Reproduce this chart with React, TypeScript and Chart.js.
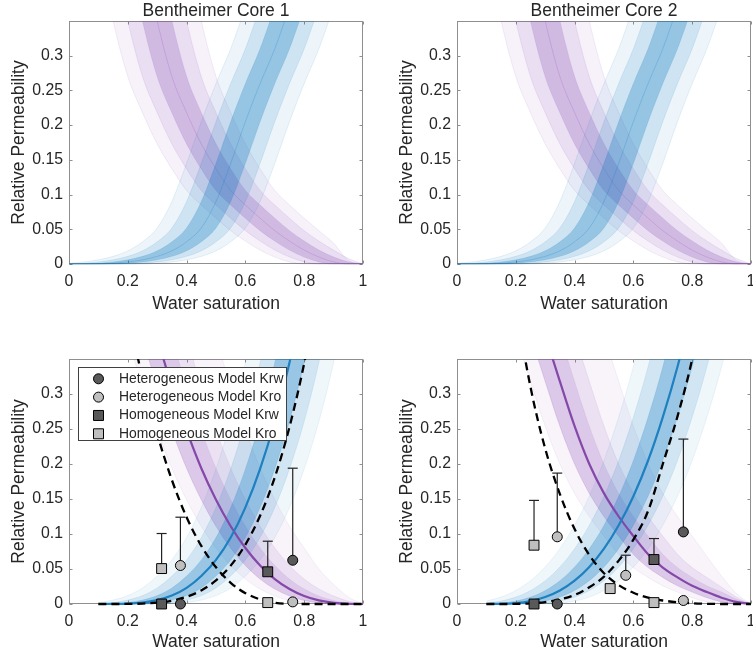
import React, { useEffect, useRef } from 'react';
import { Chart, registerables } from 'chart.js';

Chart.register(...registerables);

const FONT = "'Liberation Sans', Arial, Helvetica, sans-serif";
const TEXT = '#262626';
const AXIS = '#8f8f8f';
const ERR = '#222222';
const DARK = 'rgb(89,89,89)';
const LIGHT = 'rgb(191,191,191)';
const BLUE = [0, 114, 189];
const PURPLE = [135, 75, 178];
const BLUE_LINE = 'rgb(30,128,192)';
const PURPLE_LINE = 'rgb(132,72,168)';

// ---------- ticks & texts ----------
const xTickValues = [0, 0.2, 0.4, 0.6, 0.8, 1];
const xTickLabels = ['0', '0.2', '0.4', '0.6', '0.8', '1'];
const yTickValues = [0, 0.05, 0.1, 0.15, 0.2, 0.25, 0.3];
const yTickLabels = ['0', '0.05', '0.1', '0.15', '0.2', '0.25', '0.3'];
const panelTitles = ['Bentheimer Core 1', 'Bentheimer Core 2'];
const xTitle = 'Water saturation';
const yTitle = 'Relative Permeability';
const legendLabels = [
  'Heterogeneous Model Krw',
  'Heterogeneous Model Kro',
  'Homogeneous Model Krw',
  'Homogeneous Model Kro',
];

// ---------- top panels (ensemble of history-matched curves) ----------
const xsTop = [0, 0.05, 0.1, 0.15, 0.2, 0.25, 0.3, 0.35, 0.4, 0.45, 0.5, 0.55, 0.6, 0.65, 0.7, 0.75, 0.8, 0.85, 0.9, 0.95, 1];
const topKrwMed = [0, 0, 0, 0.001, 0.003, 0.006, 0.011, 0.019, 0.032, 0.052, 0.09, 0.145, 0.205, 0.26, 0.31, 0.37, 0.43, 0.5, 0.57, 0.64, 0.72];
const topKrwHi1 = [0, 0, 0.001, 0.003, 0.006, 0.011, 0.019, 0.032, 0.052, 0.09, 0.145, 0.205, 0.26, 0.31, 0.37, 0.43, 0.5, 0.57, 0.64, 0.72, 0.8];
const topKrwHi2 = [0, 0.001, 0.003, 0.006, 0.011, 0.019, 0.032, 0.052, 0.09, 0.145, 0.205, 0.26, 0.31, 0.37, 0.43, 0.5, 0.57, 0.64, 0.72, 0.8, 0.88];
const topKrwHi3 = [0.001, 0.003, 0.006, 0.011, 0.019, 0.032, 0.052, 0.09, 0.145, 0.205, 0.26, 0.31, 0.37, 0.43, 0.5, 0.57, 0.64, 0.72, 0.8, 0.88, 0.96];
const topKrwLo1 = [0, 0, 0, 0, 0.001, 0.003, 0.006, 0.011, 0.019, 0.032, 0.052, 0.09, 0.145, 0.205, 0.26, 0.31, 0.37, 0.43, 0.5, 0.57, 0.64];
const topKrwLo2 = [0, 0, 0, 0, 0, 0.001, 0.003, 0.006, 0.011, 0.019, 0.032, 0.052, 0.09, 0.145, 0.205, 0.26, 0.31, 0.37, 0.43, 0.5, 0.57];
const topKrwLo3 = [0, 0, 0, 0, 0, 0, 0.001, 0.003, 0.006, 0.011, 0.019, 0.032, 0.052, 0.09, 0.145, 0.205, 0.26, 0.31, 0.37, 0.43, 0.5];

const topKroMed = [1.2, 1.0, 0.85, 0.72, 0.6, 0.45, 0.35, 0.27, 0.218, 0.173, 0.137, 0.106, 0.085, 0.066, 0.048, 0.033, 0.02, 0.01, 0.003, 0, 0];
const topKroHi1 = [1.4, 1.2, 1.0, 0.85, 0.72, 0.6, 0.45, 0.35, 0.27, 0.218, 0.173, 0.137, 0.106, 0.085, 0.066, 0.048, 0.033, 0.02, 0.01, 0.003, 0];
const topKroHi2 = [1.6, 1.4, 1.2, 1.0, 0.85, 0.72, 0.6, 0.45, 0.35, 0.27, 0.218, 0.173, 0.137, 0.106, 0.085, 0.066, 0.048, 0.033, 0.02, 0.008, 0];
const topKroHi3 = [1.8, 1.6, 1.4, 1.2, 1.0, 0.85, 0.72, 0.6, 0.45, 0.35, 0.27, 0.218, 0.173, 0.137, 0.106, 0.085, 0.066, 0.048, 0.03, 0.005, 0];
const topKroLo1 = [1.0, 0.85, 0.72, 0.6, 0.45, 0.35, 0.27, 0.218, 0.173, 0.137, 0.106, 0.085, 0.066, 0.048, 0.033, 0.02, 0.01, 0.003, 0, 0, 0];
const topKroLo2 = [0.85, 0.72, 0.6, 0.45, 0.35, 0.27, 0.218, 0.173, 0.137, 0.106, 0.085, 0.066, 0.048, 0.033, 0.02, 0.01, 0.003, 0, 0, 0, 0];
const topKroLo3 = [0.72, 0.6, 0.45, 0.35, 0.27, 0.218, 0.173, 0.137, 0.106, 0.085, 0.066, 0.048, 0.033, 0.02, 0.01, 0.003, 0, 0, 0, 0, 0];

// ---------- bottom panels (Corey curves) ----------
const xsBot = [0.1, 0.15, 0.2, 0.25, 0.3, 0.35, 0.4, 0.45, 0.5, 0.55, 0.6, 0.65, 0.7, 0.75, 0.8, 0.85, 0.9, 0.95, 1];

// Core 1
const c1KrwMed = [0, 0.0001, 0.0005, 0.002, 0.0056, 0.012, 0.023, 0.04, 0.063, 0.095, 0.138, 0.193, 0.261, 0.345, 0.448, 0.57, 0.715, 0.88, 1.08];
const c1KrwHi1 = [0.0001, 0.0005, 0.002, 0.0056, 0.012, 0.023, 0.04, 0.063, 0.095, 0.138, 0.193, 0.261, 0.345, 0.448, 0.57, 0.715, 0.88, 1.08, 1.3];
const c1KrwHi2 = [0.0005, 0.002, 0.0056, 0.012, 0.023, 0.04, 0.063, 0.095, 0.138, 0.193, 0.261, 0.345, 0.448, 0.57, 0.715, 0.88, 1.08, 1.3, 1.55];
const c1KrwHi3 = [0.002, 0.0056, 0.012, 0.023, 0.04, 0.063, 0.095, 0.138, 0.193, 0.261, 0.345, 0.448, 0.57, 0.715, 0.88, 1.08, 1.3, 1.55, 1.8];
const c1KrwLo1 = [0, 0, 0.0001, 0.0005, 0.002, 0.0056, 0.012, 0.023, 0.04, 0.063, 0.095, 0.138, 0.193, 0.261, 0.345, 0.448, 0.57, 0.715, 0.88];
const c1KrwLo2 = [0, 0, 0, 0.0001, 0.0005, 0.002, 0.0056, 0.012, 0.023, 0.04, 0.063, 0.095, 0.138, 0.193, 0.261, 0.345, 0.448, 0.57, 0.715];
const c1KrwLo3 = [0, 0, 0, 0, 0.0001, 0.0005, 0.002, 0.0056, 0.012, 0.023, 0.04, 0.063, 0.095, 0.138, 0.193, 0.261, 0.345, 0.448, 0.57];
const c1KroMed = [0.772, 0.658, 0.555, 0.463, 0.382, 0.31, 0.248, 0.194, 0.149, 0.111, 0.08, 0.055, 0.0356, 0.0214, 0.0114, 0.0051, 0.0016, 0.0002, 0];
const c1KroHi1 = [0.9, 0.772, 0.658, 0.555, 0.463, 0.382, 0.31, 0.248, 0.194, 0.149, 0.111, 0.08, 0.055, 0.0356, 0.0214, 0.0114, 0.0051, 0.0016, 0];
const c1KroHi2 = [1.05, 0.9, 0.772, 0.658, 0.555, 0.463, 0.382, 0.31, 0.248, 0.194, 0.149, 0.111, 0.08, 0.055, 0.0356, 0.0214, 0.0114, 0.004, 0];
const c1KroHi4 = [1.35, 1.2, 1.05, 0.9, 0.772, 0.658, 0.555, 0.463, 0.382, 0.31, 0.248, 0.194, 0.149, 0.111, 0.08, 0.05, 0.028, 0.01, 0];
const c1KroLo1 = [0.658, 0.555, 0.463, 0.382, 0.31, 0.248, 0.194, 0.149, 0.111, 0.08, 0.055, 0.0356, 0.0214, 0.0114, 0.0051, 0.0016, 0.0002, 0, 0];
const c1KroLo2 = [0.555, 0.463, 0.382, 0.31, 0.248, 0.194, 0.149, 0.111, 0.08, 0.055, 0.0356, 0.0214, 0.0114, 0.0051, 0.0016, 0.0002, 0, 0, 0];
const c1DashKro = [0.666, 0.533, 0.419, 0.323, 0.243, 0.177, 0.124, 0.083, 0.0524, 0.0303, 0.0155, 0.0066, 0.0019, 0.0002, 0, 0, 0, 0, 0];
const c1DashKrw = [0, 0, 0.0001, 0.0006, 0.0019, 0.0048, 0.0103, 0.0194, 0.0337, 0.0548, 0.0849, 0.126, 0.181, 0.253, 0.344, 0.458, 0.6, 0.772, 0.98];

const c1HetKrwX = [0.379, 0.761];
const c1HetKrwY = [0, 0.0625];
const c1HetKrwTop = [0, 0.194];
const c1HetKroX = [0.379, 0.761];
const c1HetKroY = [0.055, 0.003];
const c1HetKroTop = [0.124, 0.003];
const c1HomKrwX = [0.315, 0.676];
const c1HomKrwY = [0, 0.046];
const c1HomKrwTop = [0, 0.0897];
const c1HomKroX = [0.315, 0.676];
const c1HomKroY = [0.0506, 0.002];
const c1HomKroTop = [0.1007, 0.002];

// Core 2
const c2KrwMed = [0, 0.0002, 0.0012, 0.0042, 0.0099, 0.0193, 0.0333, 0.0529, 0.079, 0.1125, 0.154, 0.205, 0.267, 0.339, 0.4235, 0.521, 0.632, 0.758, 0.9];
const c2KrwHi1 = [0.0002, 0.0012, 0.0042, 0.0099, 0.0193, 0.0333, 0.0529, 0.079, 0.1125, 0.154, 0.205, 0.267, 0.339, 0.4235, 0.521, 0.632, 0.758, 0.9, 1.06];
const c2KrwHi2 = [0.0012, 0.0042, 0.0099, 0.0193, 0.0333, 0.0529, 0.079, 0.1125, 0.154, 0.205, 0.267, 0.339, 0.4235, 0.521, 0.632, 0.758, 0.9, 1.06, 1.23];
const c2KrwHi3 = [0.0042, 0.0099, 0.0193, 0.0333, 0.0529, 0.079, 0.1125, 0.154, 0.205, 0.267, 0.339, 0.4235, 0.521, 0.632, 0.758, 0.9, 1.06, 1.23, 1.42];
const c2KrwLo1 = [0, 0, 0.0002, 0.0012, 0.0042, 0.0099, 0.0193, 0.0333, 0.0529, 0.079, 0.1125, 0.154, 0.205, 0.267, 0.339, 0.4235, 0.521, 0.632, 0.758];
const c2KrwLo2 = [0, 0, 0, 0.0002, 0.0012, 0.0042, 0.0099, 0.0193, 0.0333, 0.0529, 0.079, 0.1125, 0.154, 0.205, 0.267, 0.339, 0.4235, 0.521, 0.632];
const c2KrwLo3 = [0, 0, 0, 0, 0.0002, 0.0012, 0.0042, 0.0099, 0.0193, 0.0333, 0.0529, 0.079, 0.1125, 0.154, 0.205, 0.267, 0.339, 0.4235, 0.521];
const c2KroMed = [0.76, 0.65, 0.55, 0.46, 0.385, 0.318, 0.254, 0.2, 0.158, 0.125, 0.097, 0.071, 0.052, 0.038, 0.026, 0.017, 0.009, 0.003, 0];
const c2KroHi1 = [0.88, 0.76, 0.65, 0.55, 0.46, 0.385, 0.318, 0.254, 0.2, 0.158, 0.125, 0.097, 0.071, 0.052, 0.038, 0.026, 0.017, 0.007, 0];
const c2KroHi2 = [1.0, 0.88, 0.76, 0.65, 0.55, 0.46, 0.385, 0.318, 0.254, 0.2, 0.158, 0.125, 0.097, 0.071, 0.052, 0.038, 0.024, 0.01, 0];
const c2KroHi4 = [1.24, 1.12, 1.0, 0.88, 0.76, 0.65, 0.55, 0.46, 0.385, 0.318, 0.254, 0.2, 0.158, 0.125, 0.097, 0.068, 0.04, 0.015, 0];
const c2KroLo1 = [0.65, 0.55, 0.46, 0.385, 0.318, 0.254, 0.2, 0.158, 0.125, 0.097, 0.071, 0.052, 0.038, 0.026, 0.017, 0.009, 0.003, 0, 0];
const c2KroLo2 = [0.55, 0.46, 0.385, 0.318, 0.254, 0.2, 0.158, 0.125, 0.097, 0.071, 0.052, 0.038, 0.026, 0.017, 0.009, 0.003, 0, 0, 0];
const c2DashKro = [0.75, 0.58, 0.43, 0.31, 0.222, 0.157, 0.107, 0.07, 0.044, 0.027, 0.016, 0.009, 0.005, 0.0025, 0.001, 0.0003, 0, 0, 0];
const c2DashKrw = [0, 0, 0.0002, 0.001, 0.0028, 0.0065, 0.013, 0.024, 0.039, 0.062, 0.092, 0.133, 0.2, 0.268, 0.35, 0.46, 0.6, 0.77, 0.97];

const c2HetKrwX = [0.341, 0.77];
const c2HetKrwY = [0, 0.103];
const c2HetKrwTop = [0, 0.2356];
const c2HetKroX = [0.341, 0.574, 0.77];
const c2HetKroY = [0.096, 0.041, 0.005];
const c2HetKroTop = [0.187, 0.0697, 0.005];
const c2HomKrwX = [0.262, 0.67];
const c2HomKrwY = [0, 0.0635];
const c2HomKrwTop = [0, 0.0935];
const c2HomKroX = [0.262, 0.521, 0.67];
const c2HomKroY = [0.084, 0.022, 0.002];
const c2HomKroTop = [0.148, 0.022, 0.002];

// ---------- helpers ----------
const rgba = (c: number[], a: number) => `rgba(${c[0]},${c[1]},${c[2]},${a})`;
const pts = (xs: number[], ys: number[]) => xs.map((x, i) => ({ x, y: ys[i] }));

function makeLine(xs: number[], ys: number[], extra: any) {
  return {
    data: pts(xs, ys),
    pointRadius: 0,
    borderWidth: 1,
    cubicInterpolationMode: 'monotone',
    fill: false,
    clip: { left: 0, right: 0, top: 0, bottom: 2 },
    ...extra,
  };
}

function addBand(ds: any[], xs: number[], lo: number[], hi: number[], color: number[], fillA: number, lineA: number, order: number) {
  const i = ds.length;
  ds.push(makeLine(xs, lo, { borderColor: rgba(color, lineA), order }));
  ds.push(makeLine(xs, hi, { borderColor: rgba(color, lineA), backgroundColor: rgba(color, fillA), fill: { target: i }, order }));
}

function addMarkers(ds: any[], xs: number[], ys: number[], tops: number[], shape: string, color: string) {
  ds.push({
    data: pts(xs, ys),
    showLine: false,
    pointStyle: shape,
    pointRadius: shape === 'circle' ? 5 : 7,
    pointBackgroundColor: color,
    pointBorderColor: '#000',
    pointBorderWidth: 1,
    borderColor: 'transparent',
    fill: false,
    order: 0,
    clip: false,
  });
  xs.forEach((x, i) => {
    if (tops[i] > ys[i] + 1e-6) {
      ds.push({
        data: [{ x, y: ys[i] }, { x, y: tops[i] }],
        borderColor: ERR,
        borderWidth: 1.2,
        pointRadius: [0, 5],
        pointStyle: 'line',
        pointBorderColor: ERR,
        pointBorderWidth: 1.2,
        fill: false,
        order: 1,
        clip: false,
      });
    }
  });
}

const axesBoxPlugin = {
  id: 'axesBox',
  beforeDatasetsDraw(chart: any) {
    const { ctx, chartArea: a, scales } = chart;
    const xs = scales.x;
    const ys = scales.y;
    const L = Math.round(a.left) + 0.5;
    const R = Math.round(a.right) - 0.5;
    const T = Math.round(a.top) + 0.5;
    const B = Math.round(a.bottom) - 0.5;
    ctx.save();
    ctx.strokeStyle = AXIS;
    ctx.lineWidth = 1;
    ctx.strokeRect(L, T, R - L, B - T);
    ctx.beginPath();
    xs.ticks.forEach((t: any) => {
      const p = Math.round(xs.getPixelForValue(t.value)) + 0.5;
      ctx.moveTo(p, B);
      ctx.lineTo(p, B - 3);
      ctx.moveTo(p, T);
      ctx.lineTo(p, T + 3);
    });
    ys.ticks.forEach((t: any) => {
      const p = Math.round(ys.getPixelForValue(t.value)) + 0.5;
      ctx.moveTo(L, p);
      ctx.lineTo(L + 3, p);
      ctx.moveTo(R, p);
      ctx.lineTo(R - 3, p);
    });
    ctx.stroke();
    ctx.restore();
  },
};

function makeLegendPlugin(items: { label: string; shape: string; color: string }[]) {
  return {
    id: 'boxLegend',
    afterDatasetsDraw(chart: any) {
      const { ctx, chartArea } = chart;
      const x0 = Math.round(chartArea.left + 8.5) + 0.5;
      const y0 = Math.round(chartArea.top + 8) + 0.5;
      const w = 208;
      const h = 73;
      ctx.save();
      ctx.fillStyle = '#ffffff';
      ctx.fillRect(x0, y0, w, h);
      ctx.strokeStyle = '#404040';
      ctx.lineWidth = 1;
      ctx.strokeRect(x0, y0, w, h);
      ctx.font = `13.9px ${FONT}`;
      ctx.textBaseline = 'middle';
      ctx.textAlign = 'left';
      items.forEach((it, i) => {
        const cy = y0 + 11.3 + i * 18.33;
        const cx = x0 + 20;
        ctx.beginPath();
        if (it.shape === 'circle') ctx.arc(cx, cy, 5, 0, Math.PI * 2);
        else ctx.rect(cx - 5, cy - 5, 10, 10);
        ctx.fillStyle = it.color;
        ctx.fill();
        ctx.strokeStyle = '#000';
        ctx.lineWidth = 1;
        ctx.stroke();
        ctx.fillStyle = TEXT;
        ctx.fillText(it.label, x0 + 40.5, cy);
      });
      ctx.restore();
    },
  };
}

type Geo = { padRight: number; padTop: number; padBottom: number; xH: number };

function baseOptions(g: Geo, title?: string): any {
  return {
    responsive: false,
    animation: false,
    events: [],
    layout: { autoPadding: false, padding: { left: 0, right: g.padRight, top: g.padTop, bottom: g.padBottom } },
    plugins: {
      legend: { display: false },
      tooltip: { enabled: false },
      title: title
        ? {
            display: true,
            text: title,
            color: TEXT,
            fullSize: false,
            font: { family: FONT, size: 17.5, weight: 'normal', lineHeight: '19px' },
            padding: { top: 2, bottom: 0 },
          }
        : { display: false },
    },
    scales: {
      x: {
        type: 'linear',
        min: 0,
        max: 1,
        grid: { display: false, drawTicks: false },
        border: { display: false },
        afterBuildTicks: (s: any) => {
          s.ticks = xTickValues.map((v) => ({ value: v }));
        },
        afterFit: (s: any) => {
          s.height = g.xH;
          s.paddingLeft = 0;
          s.paddingRight = 0;
        },
        ticks: {
          autoSkip: false,
          maxRotation: 0,
          minRotation: 0,
          padding: 8.5,
          color: TEXT,
          font: { family: FONT, size: 15.8, lineHeight: '19px' },
          callback: (_v: any, i: number) => xTickLabels[i],
        },
        title: {
          display: true,
          text: xTitle,
          color: TEXT,
          font: { family: FONT, size: 17.5, lineHeight: '21px' },
          padding: 0,
        },
      },
      y: {
        type: 'linear',
        min: 0,
        max: 0.35,
        grid: { display: false, drawTicks: false },
        border: { display: false },
        afterBuildTicks: (s: any) => {
          s.ticks = yTickValues.map((v) => ({ value: v }));
        },
        afterFit: (s: any) => {
          s.width = 69;
          s.paddingTop = 0;
          s.paddingBottom = 0;
        },
        ticks: {
          autoSkip: false,
          padding: 6,
          color: TEXT,
          font: { family: FONT, size: 15.8, lineHeight: '19px' },
          callback: (_v: any, i: number) => yTickLabels[i],
        },
        title: {
          display: true,
          text: yTitle,
          color: TEXT,
          font: { family: FONT, size: 17.5, lineHeight: '21px' },
          padding: { top: 8.5, bottom: 0 },
        },
      },
    },
  };
}

function topConfig(title: string, g: Geo) {
  const ds: any[] = [];
  addBand(ds, xsTop, topKrwLo3, topKrwHi3, BLUE, 0.07, 0.1, 10);
  addBand(ds, xsTop, topKrwLo2, topKrwHi2, BLUE, 0.13, 0.11, 10);
  addBand(ds, xsTop, topKrwLo1, topKrwHi1, BLUE, 0.28, 0.13, 10);
  ds.push(makeLine(xsTop, topKrwMed, { borderColor: rgba(BLUE, 0.22), order: 10 }));
  addBand(ds, xsTop, topKroLo3, topKroHi3, PURPLE, 0.07, 0.1, 11);
  addBand(ds, xsTop, topKroLo2, topKroHi2, PURPLE, 0.12, 0.11, 11);
  addBand(ds, xsTop, topKroLo1, topKroHi1, PURPLE, 0.24, 0.13, 11);
  ds.push(makeLine(xsTop, topKroMed, { borderColor: rgba(PURPLE, 0.22), order: 11 }));
  return {
    type: 'line',
    data: { datasets: ds },
    options: baseOptions(g, title),
    plugins: [axesBoxPlugin],
  };
}

type Core = {
  krw: number[][]; // med, hi1, hi2, hi3, lo1, lo2, lo3
  kro: number[][]; // med, hi1, hi2, hi4, lo1, lo2
  dashKro: number[];
  dashKrw: number[];
  markers: { x: number[]; y: number[]; top: number[]; shape: string; color: string }[];
};

function bottomConfig(c: Core, g: Geo, withLegend: boolean) {
  const ds: any[] = [];
  const [bMed, bH1, bH2, bH3, bL1, bL2, bL3] = c.krw;
  const [pMed, pH1, pH2, pH4, pL1, pL2] = c.kro;
  c.markers.forEach((m) => addMarkers(ds, m.x, m.y, m.top, m.shape, m.color));
  ds.push(makeLine(xsBot, c.dashKro, { borderColor: '#000', borderWidth: 2.3, borderDash: [8, 5], order: 2 }));
  ds.push(makeLine(xsBot, c.dashKrw, { borderColor: '#000', borderWidth: 2.3, borderDash: [8, 5], order: 2 }));
  ds.push(makeLine(xsBot, bMed, { borderColor: BLUE_LINE, borderWidth: 2.2, order: 3 }));
  ds.push(makeLine(xsBot, pMed, { borderColor: PURPLE_LINE, borderWidth: 2.2, order: 3 }));
  addBand(ds, xsBot, bL3, bH3, BLUE, 0.06, 0.08, 10);
  addBand(ds, xsBot, bL2, bH2, BLUE, 0.13, 0.1, 10);
  addBand(ds, xsBot, bL1, bH1, BLUE, 0.28, 0.12, 10);
  addBand(ds, xsBot, pL2, pH4, PURPLE, 0.06, 0.08, 11);
  addBand(ds, xsBot, pL1, pH2, PURPLE, 0.11, 0.1, 11);
  addBand(ds, xsBot, pL1, pH1, PURPLE, 0.16, 0.08, 11);
  const plugins: any[] = [axesBoxPlugin];
  if (withLegend) {
    plugins.push(
      makeLegendPlugin([
        { label: legendLabels[0], shape: 'circle', color: DARK },
        { label: legendLabels[1], shape: 'circle', color: LIGHT },
        { label: legendLabels[2], shape: 'rect', color: DARK },
        { label: legendLabels[3], shape: 'rect', color: LIGHT },
      ])
    );
  }
  return {
    type: 'line',
    data: { datasets: ds },
    options: baseOptions(g),
    plugins,
  };
}

const core1: Core = {
  krw: [c1KrwMed, c1KrwHi1, c1KrwHi2, c1KrwHi3, c1KrwLo1, c1KrwLo2, c1KrwLo3],
  kro: [c1KroMed, c1KroHi1, c1KroHi2, c1KroHi4, c1KroLo1, c1KroLo2],
  dashKro: c1DashKro,
  dashKrw: c1DashKrw,
  markers: [
    { x: c1HetKrwX, y: c1HetKrwY, top: c1HetKrwTop, shape: 'circle', color: DARK },
    { x: c1HetKroX, y: c1HetKroY, top: c1HetKroTop, shape: 'circle', color: LIGHT },
    { x: c1HomKrwX, y: c1HomKrwY, top: c1HomKrwTop, shape: 'rect', color: DARK },
    { x: c1HomKroX, y: c1HomKroY, top: c1HomKroTop, shape: 'rect', color: LIGHT },
  ],
};

const core2: Core = {
  krw: [c2KrwMed, c2KrwHi1, c2KrwHi2, c2KrwHi3, c2KrwLo1, c2KrwLo2, c2KrwLo3],
  kro: [c2KroMed, c2KroHi1, c2KroHi2, c2KroHi4, c2KroLo1, c2KroLo2],
  dashKro: c2DashKro,
  dashKrw: c2DashKrw,
  markers: [
    { x: c2HetKrwX, y: c2HetKrwY, top: c2HetKrwTop, shape: 'circle', color: DARK },
    { x: c2HetKroX, y: c2HetKroY, top: c2HetKroTop, shape: 'circle', color: LIGHT },
    { x: c2HomKrwX, y: c2HomKrwY, top: c2HomKrwTop, shape: 'rect', color: DARK },
    { x: c2HomKroX, y: c2HomKroY, top: c2HomKroTop, shape: 'rect', color: LIGHT },
  ],
};

function Panel({ left, top, width, height, make }: { left: number; top: number; width: number; height: number; make: () => any }) {
  const ref = useRef<HTMLCanvasElement>(null);
  useEffect(() => {
    const chart = new Chart(ref.current as HTMLCanvasElement, make());
    return () => chart.destroy();
  }, []);
  return (
    <canvas
      ref={ref}
      width={width}
      height={height}
      style={{ position: 'absolute', left, top, width, height, display: 'block' }}
    />
  );
}

const topLeftGeo: Geo = { padRight: 17, padTop: 0, padBottom: 5.5, xH: 50.5 };
const topRightGeo: Geo = { padRight: 2, padTop: 0, padBottom: 5.5, xH: 50.5 };
const botLeftGeo: Geo = { padRight: 17, padTop: 39, padBottom: 6, xH: 49 };
const botRightGeo: Geo = { padRight: 2, padTop: 39, padBottom: 6, xH: 49 };

export default function App() {
  return (
    <div style={{ position: 'absolute', left: 0, top: 0, width: 753, height: 659, background: '#ffffff', overflow: 'hidden' }}>
      <Panel left={0} top={0} width={380} height={320} make={() => topConfig(panelTitles[0], topLeftGeo)} />
      <Panel left={388} top={0} width={365} height={320} make={() => topConfig(panelTitles[1], topRightGeo)} />
      <Panel left={0} top={320} width={380} height={339} make={() => bottomConfig(core1, botLeftGeo, true)} />
      <Panel left={388} top={320} width={365} height={339} make={() => bottomConfig(core2, botRightGeo, false)} />
    </div>
  );
}
